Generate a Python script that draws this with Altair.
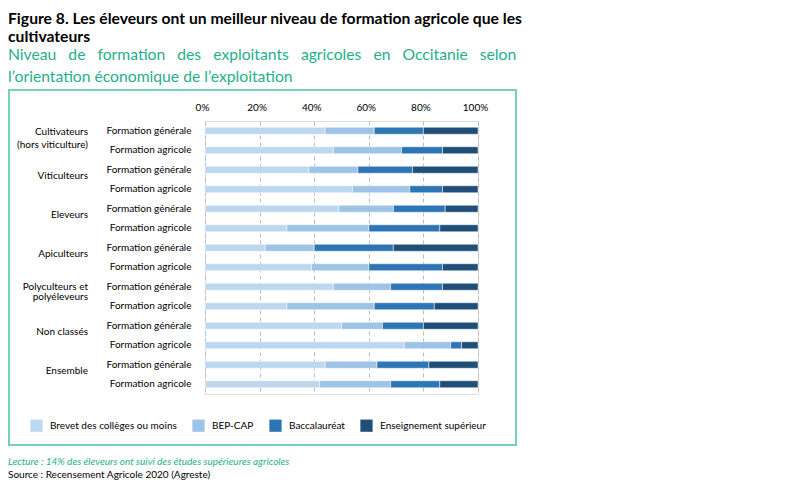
import altair as alt
import pandas as pd

# ---- data -------------------------------------------------------------
groups = ["Cultivateurs\n(hors viticulture)", "Viticulteurs", "Eleveurs", "Apiculteurs",
          "Polyculteurs et\npolyéleveurs", "Non classés", "Ensemble"]
types = ["Formation générale", "Formation agricole"]
levels = ["Brevet des collèges ou moins", "BEP-CAP", "Baccalauréat", "Enseignement supérieur"]
colors = ["#BDD7EE", "#9DC3E6", "#2E75B6", "#1F4E79"]

# one value per row, rows ordered group by group (générale, agricole)
brevet = [44, 47, 38, 54, 49, 30, 22, 39, 47, 30, 50, 73, 44, 42]
bep_cap = [18, 25, 18, 21, 20, 30, 18, 21, 21, 32, 15, 17, 19, 26]
bac = [18, 15, 20, 12, 19, 26, 29, 27, 19, 22, 15, 4, 19, 18]
sup = [20, 13, 24, 13, 12, 14, 31, 13, 13, 16, 20, 6, 18, 14]

x_ticks = [0, 0.2, 0.4, 0.6, 0.8, 1.0]

title_lines = ["Figure 8. Les éleveurs ont un meilleur niveau de formation agricole que les",
               "cultivateurs"]
# first subtitle line is justified in the original: widen its word gaps
JUST = " \u00a0\u00a0"
subtitle_lines = [JUST.join("Niveau de formation des exploitants agricoles en Occitanie selon".split(" ")),
                  "l’orientation économique de l’exploitation"]
lecture = "Lecture : 14% des éleveurs ont suivi des études supérieures agricoles"
source = "Source :  Recensement Agricole 2020 (Agreste)"

GREEN = "#1FAF8B"
FRAME = "#74D1BE"
FONT = "Lato"

# ---- tables -----------------------------------------------------------
rows = []
keys = []
series = [brevet, bep_cap, bac, sup]
for gi, g in enumerate(groups):
    for ti, t in enumerate(types):
        r = gi * 2 + ti
        key = f"{gi}|{t}"
        keys.append(key)
        for li, lev in enumerate(levels):
            rows.append({"key": key, "level": lev, "order": li, "value": series[li][r]})
df = pd.DataFrame(rows)

grp_df = pd.DataFrame({"key": [f"{gi}|{types[0]}" for gi in range(len(groups))],
                       "label": groups,
                       "lines": [g.count("\n") + 1 for g in groups],
                       "gi": list(range(len(groups)))})

one = pd.DataFrame({"a": [0]})

W, H = 273, 273

y_enc = alt.Y("key:N", sort=keys, title=None,
              scale=alt.Scale(paddingInner=0.64, paddingOuter=0.32),
              axis=alt.Axis(labelExpr="split(datum.label, '|')[1]", ticks=False, domain=False,
                            labelPadding=14, labelFontSize=10, labelColor="#000", labelFont=FONT))

bars = alt.Chart(df).mark_bar(stroke="white", strokeWidth=0.5).encode(
    x=alt.X("value:Q", stack="normalize", title=None,
            scale=alt.Scale(domain=[0, 1], nice=False),
            axis=alt.Axis(orient="top", values=x_ticks, format=".0%", ticks=False, domain=False,
                          labelFlush=False, labelPadding=9, labelOffset=-3,
                          labelFontSize=10, labelColor="#000", labelFont=FONT,
                          grid=True, gridDash=[4, 3], gridColor="#BBBBBB", gridWidth=1)),
    y=y_enc,
    color=alt.Color("level:N", sort=levels,
                    scale=alt.Scale(domain=levels, range=colors),
                    legend=alt.Legend(orient="none", legendX=-175, legendY=298, direction="horizontal",
                                      title=None, symbolType="square", symbolSize=150,
                                      symbolStrokeWidth=0, symbolOpacity=1, labelFontSize=10,
                                      labelFont=FONT, labelColor="#000", labelOffset=7,
                                      columnPadding=15)),
    order=alt.Order("order:Q"),
)

single = alt.Chart(grp_df).transform_filter("datum.lines == 1").mark_text(
    align="right", baseline="middle", dy=6, fontSize=10, font=FONT, color="#000"
).encode(x=alt.value(-117), y=alt.Y("key:N", sort=keys), text="label:N")

cult = alt.Chart(grp_df).transform_filter("datum.gi == 0").mark_text(
    align="right", baseline="middle", dy=1, fontSize=10, font=FONT, color="#000",
    lineBreak="\n", lineHeight=13
).encode(x=alt.value(-117), y=alt.Y("key:N", sort=keys), text="label:N")

poly = alt.Chart(grp_df).transform_filter("datum.gi == 4").mark_text(
    align="right", baseline="middle", dy=0, fontSize=10, font=FONT, color="#000",
    lineBreak="\n", lineHeight=10.5
).encode(x=alt.value(-117), y=alt.Y("key:N", sort=keys), text="label:N")

frame = alt.Chart(one).mark_rect(fill=None, stroke=FRAME, strokeWidth=2).encode(
    x=alt.value(-196), x2=alt.value(311), y=alt.value(-31), y2=alt.value(324))

lect = alt.Chart(one).mark_text(align="left", baseline="middle", fontSize=10, font=FONT,
                                fontStyle="italic", color=GREEN, text=lecture).encode(
    x=alt.value(-197), y=alt.value(341))
src = alt.Chart(one).mark_text(align="left", baseline="middle", fontSize=10, font=FONT,
                               color="#000", text=source).encode(
    x=alt.value(-197), y=alt.value(354))

chart = alt.layer(frame, bars, single, cult, poly, lect, src).properties(
    width=W, height=H,
    autosize=alt.AutoSizeParams(type="none"),
    padding={"left": 197, "top": 113, "right": 45, "bottom": 86},
    title=alt.TitleParams(text=title_lines, subtitle=subtitle_lines, anchor="start", frame="group",
                          dx=-197, dy=5, font=FONT, fontSize=15.7, fontWeight="bold", color="#000",
                          lineHeight=18, subtitleFont=FONT, subtitleFontSize=15.7,
                          subtitleColor=GREEN, subtitleLineHeight=22, subtitlePadding=3,
                          offset=8),
).configure_view(stroke=None).configure(font=FONT)

chart.save("out.html", embed_options={"renderer": "svg", "actions": False})
